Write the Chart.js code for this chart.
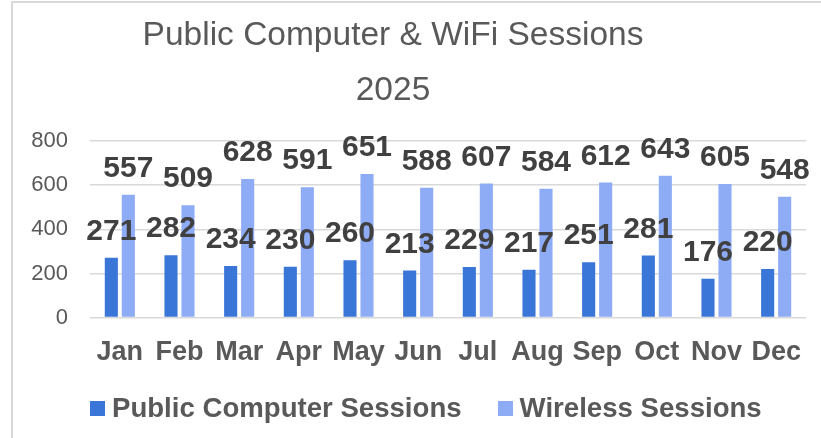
<!DOCTYPE html>
<html>
<head>
<meta charset="utf-8">
<script src="https://cdn.jsdelivr.net/npm/chart.js@4"></script>
<style>
  body { margin: 0; background: #fff; font-family: "Liberation Sans", Arial, sans-serif; }
  #wrap { position: relative; width: 821px; height: 438px; overflow: hidden; }
  #frame { position: absolute; left: 11px; top: 1px; width: 820px; height: 450px;
           border-top: 2px solid #d9d9d9; border-left: 2px solid #d9d9d9; box-sizing: border-box; }
  #title { position: absolute; left: 0; top: 6px; width: 786px; text-align: center;
           font-size: 33.5px; line-height: 55px; color: #595959; }
  #legend { position: absolute; left: 90px; top: 392px; height: 32px; display: flex; align-items: center;
            font-size: 27.6px; font-weight: bold; color: #595959; line-height: 32px; }
  #legend .item { display: flex; align-items: center; margin-right: 36px; }
  #legend .box { width: 15px; height: 15px; margin-right: 7px; }
  canvas { position: absolute; left: 0; top: 0; }
</style>
</head>
<body>
<div id="wrap">
  <div id="frame"></div>
  <canvas id="chart" width="821" height="438"></canvas>
  <div id="title">Public Computer &amp; WiFi Sessions<br>2025</div>
  <div id="legend"></div>
</div>
<script>
const months = ["Jan", "Feb", "Mar", "Apr", "May", "Jun", "Jul", "Aug", "Sep", "Oct", "Nov", "Dec"];
const publicComputer = [271, 282, 234, 230, 260, 213, 229, 217, 251, 281, 176, 220];
const wireless = [557, 509, 628, 591, 651, 588, 607, 584, 612, 643, 605, 548];
const yTicks = [0, 200, 400, 600, 800];

const FONT = "'Liberation Sans', Arial, sans-serif";

// value labels above each bar
const barLabels = {
  id: 'barLabels',
  afterDatasetsDraw(chart) {
    const ctx = chart.ctx;
    ctx.save();
    ctx.font = "bold 30px " + FONT;
    ctx.fillStyle = "#404040";
    ctx.textAlign = "center";
    ctx.textBaseline = "alphabetic";
    chart.data.datasets.forEach((ds, i) => {
      chart.getDatasetMeta(i).data.forEach((bar, j) => {
        ctx.fillText(ds.data[j], bar.x, bar.y - 18);
      });
    });
    ctx.restore();
  }
};

const chart = new Chart(document.getElementById("chart").getContext("2d"), {
  type: 'bar',
  data: {
    labels: months,
    datasets: [
      { label: 'Public Computer Sessions', data: publicComputer, backgroundColor: '#3a75d8' },
      { label: 'Wireless Sessions', data: wireless, backgroundColor: '#8eabf5' }
    ]
  },
  options: {
    responsive: false,
    animation: false,
    categoryPercentage: 0.57,
    barPercentage: 0.77,
    layout: { padding: { left: 30, right: 15, top: 141, bottom: 50 } },
    plugins: {
      title: { display: false },
      tooltip: { enabled: false },
      legend: { display: false }
    },
    scales: {
      x: {
        grid: { display: false, drawTicks: false },
        border: { display: false },
        ticks: { color: '#595959', padding: 19, maxRotation: 0, autoSkip: false,
                 font: { family: FONT, size: 27, weight: 'bold' } }
      },
      y: {
        min: 0, max: 800,
        afterFit(scale) { scale.width = 60; },
        afterBuildTicks(scale) { scale.ticks = yTicks.map(v => ({ value: v })); },
        grid: { color: '#d9d9d9', lineWidth: 1.5, drawTicks: false },
        border: { display: false },
        ticks: { color: '#595959', padding: 22, font: { family: FONT, size: 22 } }
      }
    }
  },
  plugins: [barLabels]
});

// legend built from the chart's datasets
const legendEl = document.getElementById("legend");
chart.data.datasets.forEach(ds => {
  legendEl.innerHTML += `<span class="item"><span class="box" style="background:${ds.backgroundColor}"></span>${ds.label}</span>`;
});
</script>
</body>
</html>
